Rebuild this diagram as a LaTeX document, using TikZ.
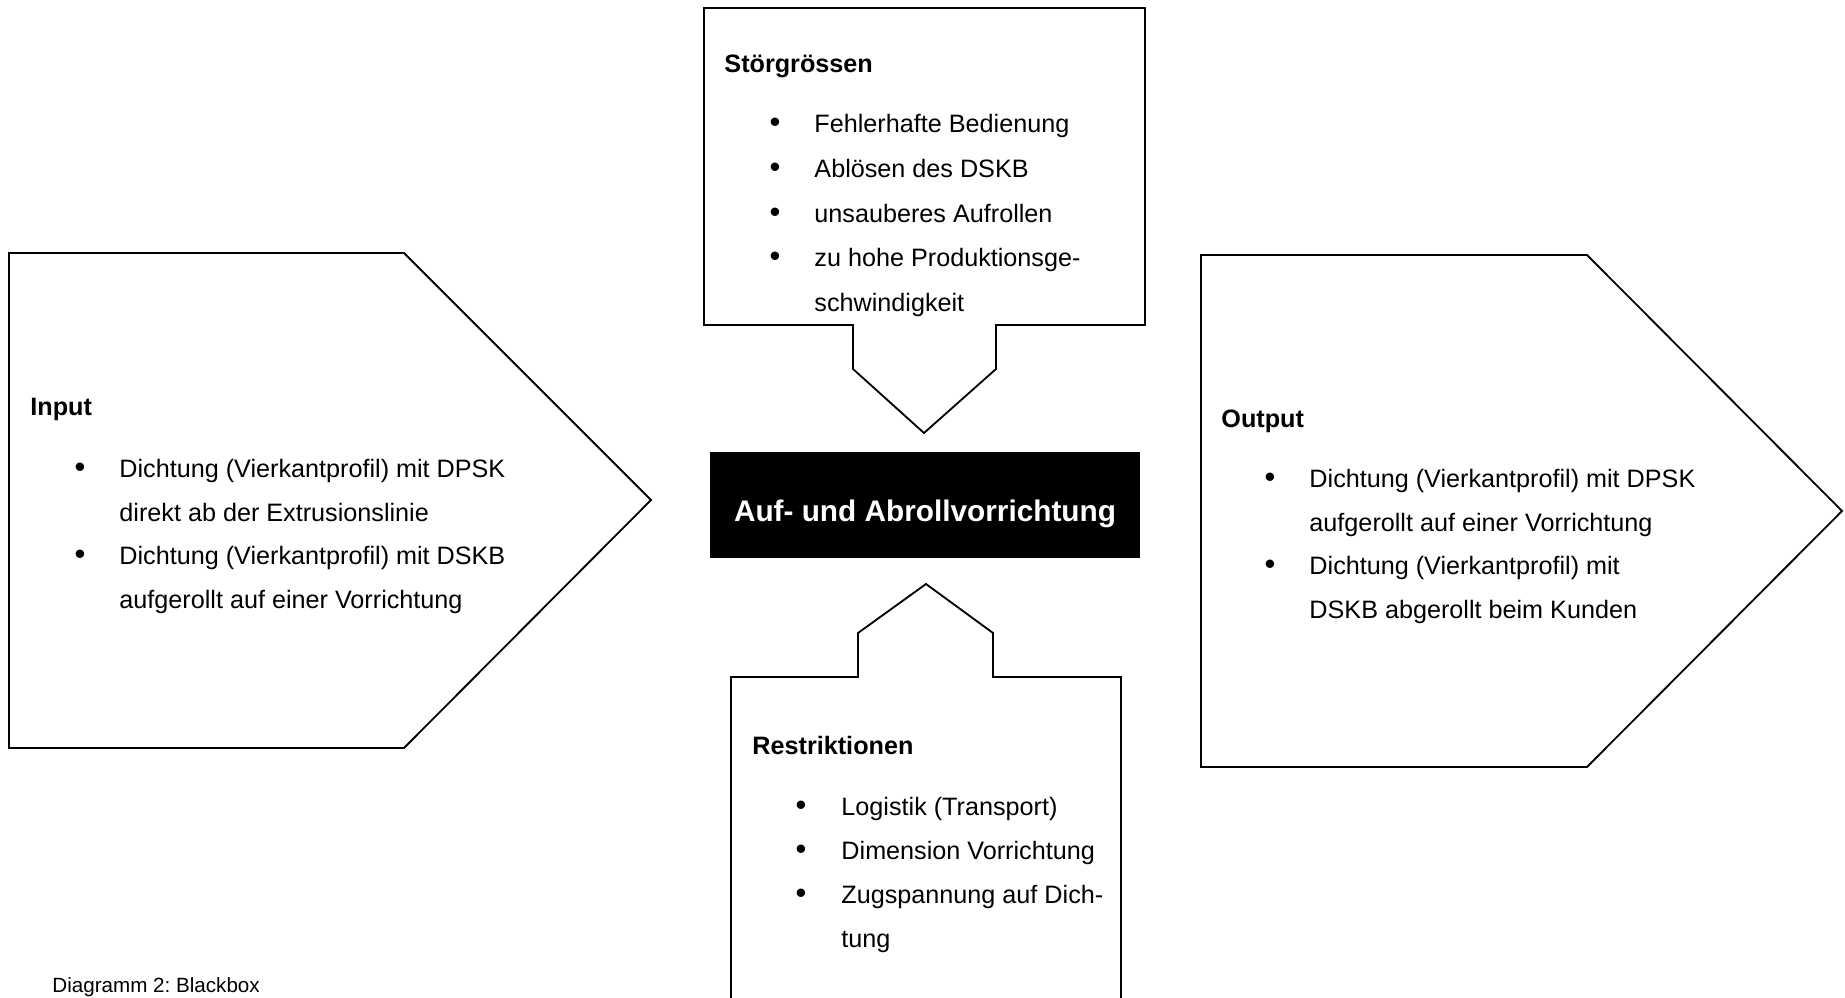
\documentclass[tikz,border=0pt]{standalone}
\usepackage{fontspec}
\setmainfont{Liberation Sans}
\usepackage{tikz}
\usetikzlibrary{positioning}
\frenchspacing
\tikzset{
  frame/.style={draw, line width=0.8pt},
  head/.style={anchor=base west, inner sep=0pt, font=\bfseries\fontsize{11}{13}\selectfont},
  txt/.style={anchor=base west, inner sep=0pt, font=\fontsize{11}{13}\selectfont},
  dot/.style={anchor=base, inner sep=0pt, font=\fontsize{13.5}{15}\selectfont},
  core/.style={fill=black, inner sep=0pt, minimum width=187.8pt, minimum height=46.3pt},
  coretext/.style={anchor=base, inner sep=0pt, text=white, font=\bfseries\fontsize{13}{15}\selectfont},
}

\begin{document}
\begin{tikzpicture}[x=0.4367pt, y=-0.4367pt]
    \useasboundingbox (0,0) rectangle (1845,998);

    % Input
    \draw[frame] (9,253) -- (404,253) -- (651,500) -- (404,748) -- (9,748) -- cycle;
    \node[head] (inhead) at (30,416) {Input};
    \foreach \t [count=\i from 0] in {Dichtung (Vierkantprofil) mit DPSK, direkt ab der Extrusionslinie,
      Dichtung (Vierkantprofil) mit DSKB, aufgerollt auf einer Vorrichtung}
      \node[txt] (in-\i) at (119,{478+43.5*\i}) {\t};
    \foreach \i in {0,2}
      \node[dot] (inb-\i) at (80,{478+43.5*\i}) {\textbullet};

    % Stoergroessen
    \draw[frame] (704,8) -- (1145,8) -- (1145,325) -- (996,325) -- (996,369) -- (924,433)
      -- (853,369) -- (853,325) -- (704,325) -- cycle;
    \node[head] (sthead) at (724,73) {Störgrössen};
    \foreach \t [count=\i from 0] in {Fehlerhafte Bedienung, Ablösen des DSKB, unsauberes Aufrollen,
      zu hohe Produktionsge-, schwindigkeit}
      \node[txt] (st-\i) at (814,{133+44.6*\i}) {\t};
    \foreach \i in {0,1,2,3}
      \node[dot] (stb-\i) at (775,{133+44.6*\i}) {\textbullet};

    % Blackbox
    \node[core] (core) at (925,505) {};
    \node[coretext] (coretxt) at (925,522) {Auf- und Abrollvorrichtung};

    % Restriktionen
    \draw[frame] (731,998) -- (731,677) -- (858,677) -- (858,633) -- (926,584) -- (993,633)
      -- (993,677) -- (1121,677) -- (1121,998);
    \node[head] (rehead) at (752,754) {Restriktionen};
    \foreach \t [count=\i from 0] in {Logistik (Transport), Dimension Vorrichtung,
      Zugspannung auf Dich-, tung}
      \node[txt] (re-\i) at (841,{815+44*\i}) {\t};
    \foreach \i in {0,1,2}
      \node[dot] (reb-\i) at (801,{815+44*\i}) {\textbullet};

    % Output
    \draw[frame] (1201,255) -- (1587,255) -- (1842,511) -- (1587,767) -- (1201,767) -- cycle;
    \node[head] (outhead) at (1221,428) {Output};
    \foreach \t [count=\i from 0] in {Dichtung (Vierkantprofil) mit DPSK, aufgerollt auf einer Vorrichtung,
      Dichtung (Vierkantprofil) mit, DSKB abgerollt beim Kunden}
      \node[txt] (out-\i) at (1309,{488+43.5*\i}) {\t};
    \foreach \i in {0,2}
      \node[dot] (outb-\i) at (1270,{488+43.5*\i}) {\textbullet};

    \node[txt, font=\fontsize{9}{11}\selectfont] (caption) at (52,992) {Diagramm 2: Blackbox};
\end{tikzpicture}
\end{document}
